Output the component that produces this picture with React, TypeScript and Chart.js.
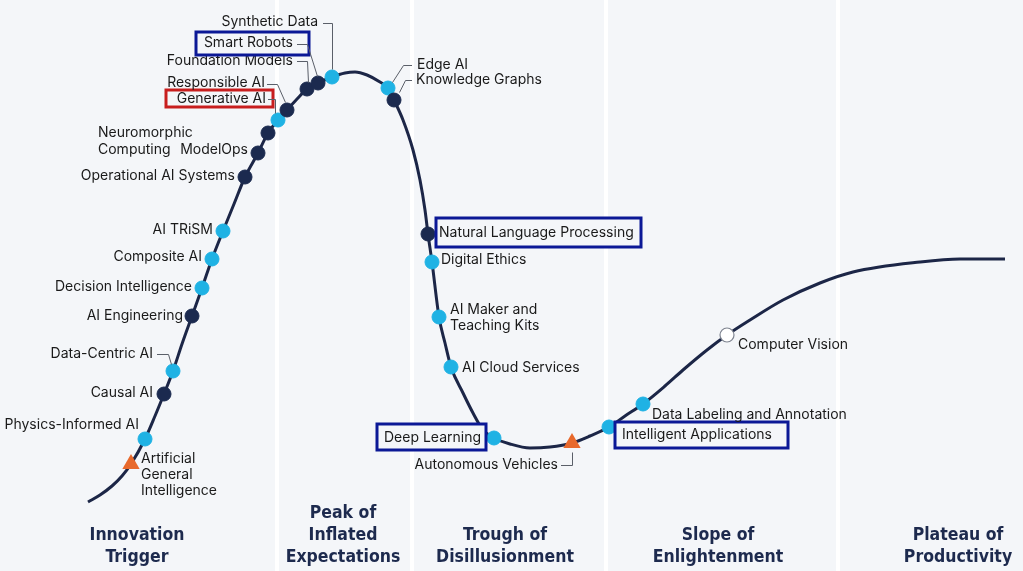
import React, { useEffect, useRef } from "react";
import { Chart, registerables } from "chart.js";

Chart.register(...registerables);

// Hype cycle curve shape: x = maturity (time), y = expectations
const curveMaturity = [88, 100, 112, 122, 155, 182, 234, 297, 345, 355, 367, 380, 403, 413, 420, 425, 445, 463, 473, 483, 510, 530, 550, 590, 625, 665, 683, 707, 750, 783, 820, 853, 920, 960, 1005];
const curveExpectations = [69, 76, 85, 95, 155, 227, 367, 472, 498, 499, 496, 489, 451, 421, 391, 361, 228, 178, 158, 141, 127, 123, 124, 135, 155, 185, 201, 221, 251, 271, 288, 299, 309, 312, 312];

// Technologies on the curve
const techNames = [
  "Artificial General Intelligence", "Physics-Informed AI", "Causal AI", "Data-Centric AI", "AI Engineering",
  "Decision Intelligence", "Composite AI", "AI TRiSM", "Operational AI Systems", "ModelOps",
  "Neuromorphic Computing", "Generative AI", "Responsible AI", "Foundation Models", "Smart Robots",
  "Synthetic Data", "Edge AI", "Knowledge Graphs", "Natural Language Processing", "Digital Ethics",
  "AI Maker and Teaching Kits", "AI Cloud Services", "Deep Learning", "Autonomous Vehicles", "Intelligent Applications",
  "Data Labeling and Annotation", "Computer Vision",
];
const techMaturity = [131, 145, 164, 173, 192, 202, 212, 223, 245, 258, 268, 278, 287, 307, 318, 332, 388, 394, 428, 432, 439, 451, 494, 572, 609, 643, 727];
const techExpectations = [107, 132, 177, 200, 255, 283, 312, 340, 394, 418, 438, 451, 461, 482, 488, 494, 483, 471, 337, 309, 254, 204, 133, 128, 144, 167, 236];
// years to mainstream adoption
const techPlateau = [
  ">10", "2-5", "5-10", "2-5", "5-10",
  "2-5", "2-5", "2-5", "5-10", "5-10",
  "5-10", "2-5", "5-10", "5-10", "5-10",
  "2-5", "2-5", "5-10", "5-10", "2-5",
  "2-5", "2-5", "2-5", ">10", "2-5",
  "2-5", "<2",
];

const phaseBoundaries = [277, 412, 606, 838];
const phaseCenters = [137, 343, 505, 718, 958];
const phaseNames = [
  ["Innovation", "Trigger"],
  ["Peak of", "Inflated", "Expectations"],
  ["Trough of", "Disillusionment"],
  ["Slope of", "Enlightenment"],
  ["Plateau of", "Productivity"],
];

// label layout (pixel offsets from the marker)
type Layout = {
  lines: string[]; dx: number; dy: number; align: "left" | "right"; lh?: number;
  leader?: number[][]; box?: { x: number; y: number; w: number; h: number; c: string };
};
const BLUE = "#0b1896";
const RED = "#c81e1e";
const labelLayout: Layout[] = [
  { lines: ["Artificial", "General", "Intelligence"], dx: 10, dy: -5, align: "left", lh: 16 },
  { lines: ["Physics-Informed AI"], dx: -6, dy: -14, align: "right" },
  { lines: ["Causal AI"], dx: -11, dy: -1, align: "right" },
  { lines: ["Data-Centric AI"], dx: -20, dy: -17, align: "right", leader: [[-16, -17], [-5, -17], [-2, -7]] },
  { lines: ["AI Engineering"], dx: -9, dy: 0, align: "right" },
  { lines: ["Decision Intelligence"], dx: -10, dy: -1, align: "right" },
  { lines: ["Composite AI"], dx: -10, dy: -2, align: "right" },
  { lines: ["AI TRiSM"], dx: -10, dy: -1, align: "right" },
  { lines: ["Operational AI Systems"], dx: -10, dy: -1, align: "right" },
  { lines: ["ModelOps"], dx: -10, dy: -3, align: "right" },
  { lines: ["Neuromorphic", "Computing"], dx: -170, dy: 0, align: "left", lh: 17 },
  { lines: ["Generative AI"], dx: -12, dy: -21, align: "right", leader: [[-10, -21], [-3, -21], [-3, -7]], box: { x: -112, y: -30, w: 107, h: 17, c: RED } },
  { lines: ["Responsible AI"], dx: -22, dy: -27, align: "right", leader: [[-20, -26], [-10, -26], [-2, -8]] },
  { lines: ["Foundation Models"], dx: -14, dy: -28, align: "right", leader: [[-10, -28], [0, -28], [1, -7]] },
  { lines: ["Smart Robots"], dx: -25, dy: -40, align: "right", leader: [[-21, -39], [-11, -39], [-1, -7]], box: { x: -122, y: -51, w: 113, h: 23, c: BLUE } },
  { lines: ["Synthetic Data"], dx: -14, dy: -55, align: "right", leader: [[-9, -54], [0, -54], [0, -8]] },
  { lines: ["Edge AI"], dx: 29, dy: -23, align: "left", leader: [[24, -23], [15, -23], [4, -6]] },
  { lines: ["Knowledge Graphs"], dx: 22, dy: -20, align: "left", leader: [[18, -20], [11, -20], [5, -8]] },
  { lines: ["Natural Language Processing"], dx: 11, dy: -1, align: "left", box: { x: 8, y: -16, w: 205, h: 29, c: BLUE } },
  { lines: ["Digital Ethics"], dx: 9, dy: -2, align: "left" },
  { lines: ["AI Maker and", "Teaching Kits"], dx: 11, dy: -7, align: "left", lh: 16 },
  { lines: ["AI Cloud Services"], dx: 11, dy: 1, align: "left" },
  { lines: ["Deep Learning"], dx: -110, dy: 0, align: "left", box: { x: -117, y: -14, w: 109, h: 26, c: BLUE } },
  { lines: ["Autonomous Vehicles"], dx: -14, dy: 22, align: "right", leader: [[-11, 22], [0, 22], [0, 9]] },
  { lines: ["Intelligent Applications"], dx: 13, dy: 8, align: "left", box: { x: 6, y: -5, w: 173, h: 26, c: BLUE } },
  { lines: ["Data Labeling and Annotation"], dx: 9, dy: 11, align: "left" },
  { lines: ["Computer Vision"], dx: 11, dy: 10, align: "left" },
];

const BG = "#f4f6f9";
const NAVY = "#1b2a4f";
const LIGHT = "#1fb2e4";
const ORANGE = "#e8692c";

function pointsFor(kind: string) {
  const out: { x: number; y: number }[] = [];
  techNames.forEach((_, i) => {
    if (techPlateau[i] === kind) out.push({ x: techMaturity[i], y: techExpectations[i] });
  });
  return out;
}

function curveData() {
  const pts = curveMaturity.map((x, i) => ({ x, y: curveExpectations[i] }));
  techNames.forEach((_, i) => pts.push({ x: techMaturity[i], y: techExpectations[i] }));
  pts.sort((a, b) => a.x - b.x);
  return pts;
}

const backgroundPlugin = {
  id: "hypeBackground",
  beforeDraw(chart: any) {
    const { ctx, width, height } = chart;
    const xs = chart.scales.x;
    ctx.save();
    ctx.fillStyle = BG;
    ctx.fillRect(0, 0, width, height);
    ctx.fillStyle = "#ffffff";
    phaseBoundaries.forEach((b) => {
      const px = xs.getPixelForValue(b);
      ctx.fillRect(Math.round(px) - 2, 0, 4, height);
    });
    ctx.fillStyle = "#1d2a4e";
    ctx.font = "bold 17.5px 'Liberation Sans Narrow', 'DejaVu Sans Condensed', sans-serif";
    ctx.textAlign = "center";
    ctx.textBaseline = "middle";
    phaseNames.forEach((lines, i) => {
      const cx = xs.getPixelForValue(phaseCenters[i]);
      const n = lines.length;
      lines.forEach((t, j) => {
        ctx.fillText(t, cx, 557 - (n - 1 - j) * 22);
      });
    });
    ctx.restore();
  },
};

const labelPlugin = {
  id: "hypeLabels",
  afterDatasetsDraw(chart: any) {
    const { ctx } = chart;
    const xs = chart.scales.x;
    const ys = chart.scales.y;
    ctx.save();
    labelLayout.forEach((l, i) => {
      const mx = xs.getPixelForValue(techMaturity[i]);
      const my = ys.getPixelForValue(techExpectations[i]);
      if (l.box) {
        ctx.fillStyle = BG;
        ctx.fillRect(mx + l.box.x, my + l.box.y, l.box.w, l.box.h);
        ctx.strokeStyle = l.box.c;
        ctx.lineWidth = 3;
        ctx.strokeRect(mx + l.box.x, my + l.box.y, l.box.w, l.box.h);
      }
      if (l.leader) {
        ctx.strokeStyle = "#5a5f69";
        ctx.lineWidth = 1;
        ctx.beginPath();
        l.leader.forEach(([dx, dy], k) => {
          if (k === 0) ctx.moveTo(mx + dx, my + dy + 0.5);
          else ctx.lineTo(mx + dx + 0.5, my + dy + 0.5);
        });
        ctx.stroke();
      }
      ctx.fillStyle = "#1a1a1a";
      ctx.font = "14px Inter, 'Noto Sans', sans-serif";
      ctx.textAlign = l.align;
      ctx.textBaseline = "middle";
      const lh = l.lh || 16;
      l.lines.forEach((t, j) => ctx.fillText(t, mx + l.dx, my + l.dy + j * lh));
    });
    ctx.restore();
  },
};

export default function App() {
  const ref = useRef<HTMLCanvasElement | null>(null);
  useEffect(() => {
    if (!ref.current) return;
    const chart = new Chart(ref.current, {
      type: "scatter",
      data: {
        datasets: [
          {
            label: "Hype Cycle",
            data: curveData(),
            showLine: true,
            borderColor: "#1c2647",
            borderWidth: 3,
            pointRadius: 0,
            cubicInterpolationMode: "monotone",
            order: 10,
          } as any,
          {
            label: "5 to 10 years",
            data: pointsFor("5-10"),
            pointRadius: 7,
            pointBackgroundColor: NAVY,
            pointBorderColor: NAVY,
            pointBorderWidth: 1,
            order: 1,
          },
          {
            label: "2 to 5 years",
            data: pointsFor("2-5"),
            pointRadius: 7,
            pointBackgroundColor: LIGHT,
            pointBorderColor: LIGHT,
            pointBorderWidth: 1,
            order: 1,
          },
          {
            label: "less than 2 years",
            data: pointsFor("<2"),
            pointRadius: 7,
            pointBackgroundColor: "#ffffff",
            pointBorderColor: "#7d838f",
            pointBorderWidth: 1.2,
            order: 1,
          },
          {
            label: "more than 10 years",
            data: pointsFor(">10"),
            pointStyle: "triangle",
            pointRadius: 10,
            pointBackgroundColor: ORANGE,
            pointBorderColor: ORANGE,
            pointBorderWidth: 0,
            order: 1,
          },
        ],
      },
      options: {
        animation: false,
        responsive: false,
        events: [],
        layout: { padding: 0, autoPadding: false },
        plugins: { legend: { display: false }, tooltip: { enabled: false } },
        scales: {
          x: { type: "linear", min: 0, max: 1023, display: false },
          y: { type: "linear", min: 0, max: 571, display: false },
        },
      },
      plugins: [backgroundPlugin, labelPlugin],
    });
    return () => chart.destroy();
  }, []);
  return (
    <div style={{ position: "absolute", left: 0, top: 0, width: 1023, height: 571 }}>
      <canvas ref={ref} width={1023} height={571} style={{ display: "block" }} />
    </div>
  );
}
